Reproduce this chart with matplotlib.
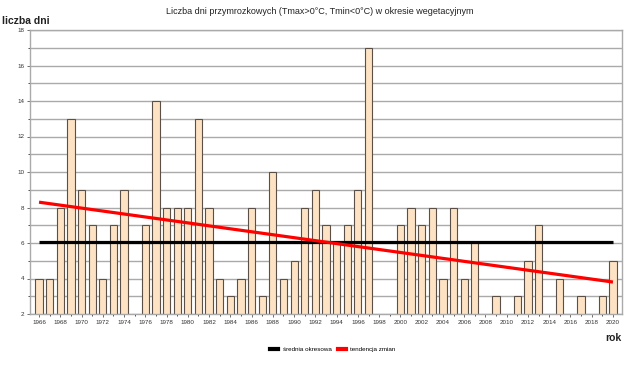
import matplotlib
matplotlib.use("Agg")
import matplotlib.pyplot as plt
from matplotlib.lines import Line2D

plt.rcParams["font.family"] = ["Liberation Sans", "DejaVu Sans"]

# years 1966-2020; years with no bar above the axis floor (2) are given 1
years = list(range(1966, 2021))
days = [
    4, 4, 8, 13, 9, 7, 4, 7, 9, 1,          # 1966-1975
    7, 14, 8, 8, 8, 13, 8, 4, 3, 4,         # 1976-1985
    8, 3, 10, 4, 5, 8, 9, 7, 6, 7,          # 1986-1995
    9, 17, 1, 1, 7, 8, 7, 8, 4, 8,          # 1996-2005
    4, 6, 1, 3, 1, 3, 5, 7, 1, 4,           # 2006-2015
    1, 3, 1, 3, 5,                          # 2016-2020
]
mean_value = 6.05
trend_years = [1966, 2020]
trend_values = [8.3, 3.8]

fig = plt.figure(figsize=(6.4, 3.65), dpi=100)
ax = fig.add_axes([30 / 640, 1 - 314 / 365, 592 / 640, 284 / 365])

ax.bar(years, days, width=0.68, bottom=0, color="#fde3c3",
       edgecolor="#5a5048", linewidth=0.8, zorder=2)
ax.plot([years[0], years[-1]], [mean_value, mean_value], color="black",
        lw=2.3, zorder=3, solid_capstyle="butt")
ax.plot(trend_years, trend_values, color="#ff0000", lw=2.3, zorder=4,
        solid_capstyle="butt")

ax.set_xlim(1965.15, 2020.85)
ax.set_ylim(2, 18)
ax.set_yticks(range(2, 19, 2))
ax.set_yticks(range(3, 18, 2), minor=True)
ax.set_xticks(range(1966, 2021, 2))
ax.set_xticks(range(1967, 2021, 2), minor=True)
ax.grid(axis="y", which="both", color="#aaaaaa", lw=1.0, zorder=0)
ax.tick_params(labelsize=4.5, colors="#333333", length=2, width=0.5, pad=2)
ax.tick_params(which="minor", length=1.5, width=0.5)
for s in ax.spines.values():
    s.set_color("#aaaaaa")
    s.set_linewidth(1.0)

fig.text(0.5, 1 - 12 / 365, "Liczba dni przymrozkowych (Tmax>0°C, Tmin<0°C) w okresie wegetacyjnym",
         ha="center", va="center", fontsize=6.5, color="#222222")
fig.text(2 / 640, 1 - 21 / 365, "liczba dni", ha="left", va="center",
         fontsize=7.5, fontweight="bold", color="#222222")
fig.text(622 / 640, 1 - 338 / 365, "rok", ha="right", va="center",
         fontsize=7.5, fontweight="bold", color="#222222")

handles = [Line2D([], [], color="black", lw=3),
           Line2D([], [], color="#ff0000", lw=3)]
fig.legend(handles, ["średnia okresowa", "tendencja zmian"], loc="center",
           bbox_to_anchor=(333 / 640, 1 - 349 / 365), ncol=2, frameon=False,
           fontsize=4.5, handlelength=1.3, columnspacing=1.0, handletextpad=0.7)

fig.savefig("out.png", dpi=100)
